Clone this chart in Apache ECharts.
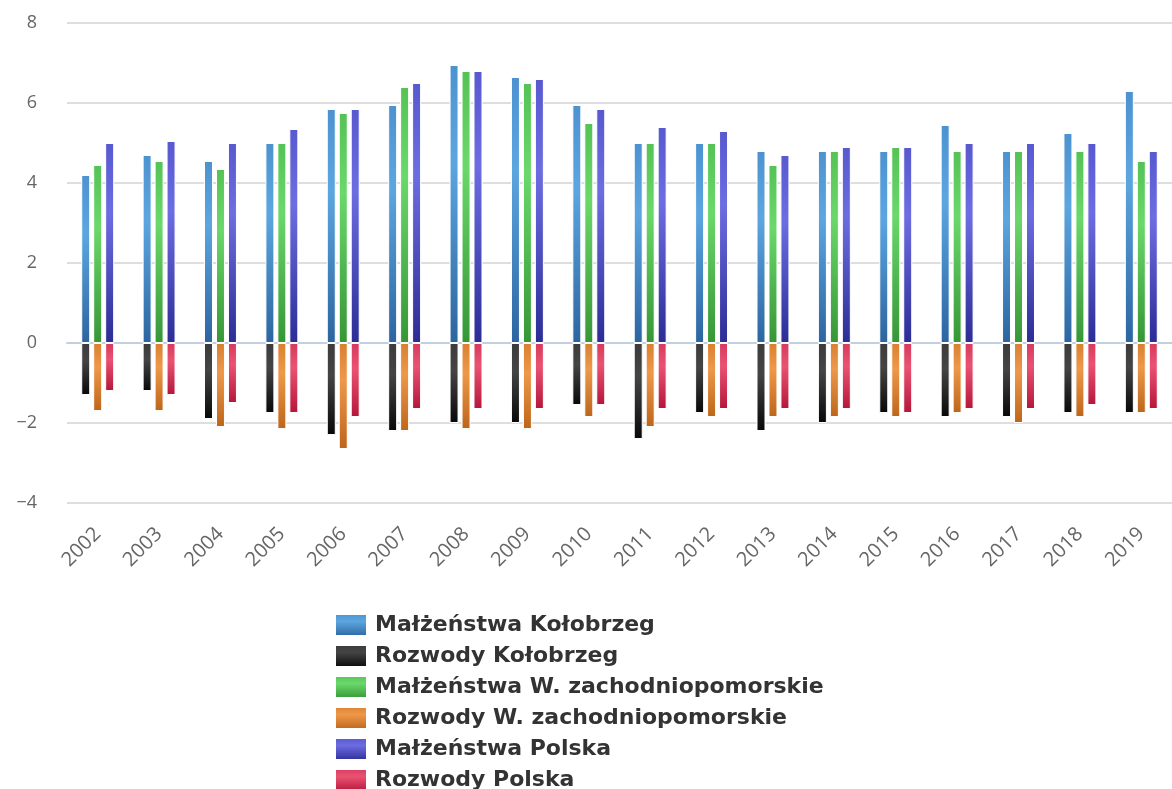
<!DOCTYPE html>
<html>
<head>
<meta charset="utf-8">
<script src="https://cdn.jsdelivr.net/npm/echarts@6/dist/echarts.min.js"></script>
<style>
  html, body { margin: 0; padding: 0; background: #fff; }
  #chart { width: 1172px; height: 789px; }
</style>
</head>
<body>
<div id="chart"></div>
<script>
// lata
const years = ['2002', '2003', '2004', '2005', '2006', '2007', '2008', '2009', '2010',
  '2011', '2012', '2013', '2014', '2015', '2016', '2017', '2018', '2019'];

// wartości
const malzKolobrzeg = [4.2, 4.7, 4.55, 5.0, 5.85, 5.95, 6.95, 6.65, 5.95, 5.0, 5.0, 4.8, 4.8, 4.8, 5.45, 4.8, 5.25, 6.3];
const rozwKolobrzeg = [-1.3, -1.2, -1.9, -1.75, -2.3, -2.2, -2.0, -2.0, -1.55, -2.4, -1.75, -2.2, -2.0, -1.75, -1.85, -1.85, -1.75, -1.75];
const malzZachPom = [4.45, 4.55, 4.35, 5.0, 5.75, 6.4, 6.8, 6.5, 5.5, 5.0, 5.0, 4.45, 4.8, 4.9, 4.8, 4.8, 4.8, 4.55];
const rozwZachPom = [-1.7, -1.7, -2.1, -2.15, -2.65, -2.2, -2.15, -2.15, -1.85, -2.1, -1.85, -1.85, -1.85, -1.85, -1.75, -2.0, -1.85, -1.75];
const malzPolska = [5.0, 5.05, 5.0, 5.35, 5.85, 6.5, 6.8, 6.6, 5.85, 5.4, 5.3, 4.7, 4.9, 4.9, 5.0, 5.0, 5.0, 4.8];
const rozwPolska = [-1.2, -1.3, -1.5, -1.75, -1.85, -1.65, -1.65, -1.65, -1.55, -1.65, -1.65, -1.65, -1.65, -1.75, -1.65, -1.65, -1.55, -1.65];

const yTicks = { min: -4, max: 8, interval: 2 };

function grad(c1, c2, c3) {
  return new echarts.graphic.LinearGradient(0, 0, 0, 1, [
    { offset: 0, color: c1 },
    { offset: 0.35, color: c2 },
    { offset: 1, color: c3 }
  ]);
}

function bar(name, data, stack, color) {
  return {
    name: name,
    type: 'bar',
    stack: stack,
    data: data,
    barWidth: 9,
    barGap: '33%',
    itemStyle: {
      color: color,
      borderColor: '#fff',
      borderWidth: 1
    }
  };
}

const chart = echarts.init(document.getElementById('chart'));

chart.setOption({
  backgroundColor: '#fff',
  animation: false,
  grid: {
    left: 67,
    right: -9,
    top: 23,
    bottom: 286
  },
  legend: {
    orient: 'vertical',
    left: 334,
    top: 613,
    height: 240,
    padding: 0,
    itemWidth: 32,
    itemHeight: 22,
    itemGap: 7,
    icon: 'rect',
    textStyle: {
      fontFamily: 'DejaVu Sans',
      fontWeight: 'bold',
      fontSize: 22,
      color: '#333',
      padding: [0, 0, 0, 3]
    }
  },
  xAxis: {
    type: 'category',
    data: years,
    axisLine: { lineStyle: { color: '#c0d0e0', width: 2 } },
    axisTick: { length: 16, lineStyle: { color: '#c0d0e0', width: 2 } },
    axisLabel: {
      rotate: 45,
      margin: 28,
      fontSize: 20,
      color: '#666',
      fontFamily: 'Open Sans'
    }
  },
  yAxis: {
    type: 'value',
    min: yTicks.min,
    max: yTicks.max,
    interval: yTicks.interval,
    axisLine: { show: false },
    axisTick: { show: false },
    axisLabel: {
      margin: 30,
      fontSize: 18,
      color: '#666',
      fontFamily: 'Open Sans',
      formatter: function (v) { return String(v).replace('-', '\u2212'); }
    },
    splitLine: { lineStyle: { color: '#dedede', width: 2 } }
  },
  series: [
    bar('Małżeństwa Kołobrzeg', malzKolobrzeg, 'kol', grad('#4d92d0', '#5ca6e0', '#2c65a0')),
    bar('Rozwody Kołobrzeg', rozwKolobrzeg, 'kol', grad('#3c3c3c', '#444444', '#080808')),
    bar('Małżeństwa W. zachodniopomorskie', malzZachPom, 'wz', grad('#55c255', '#6ad86a', '#369636')),
    bar('Rozwody W. zachodniopomorskie', rozwZachPom, 'wz', grad('#d98030', '#ee984a', '#bd661a')),
    bar('Małżeństwa Polska', malzPolska, 'pl', grad('#5858cf', '#6d6de2', '#2c2c96')),
    bar('Rozwody Polska', rozwPolska, 'pl', grad('#d63a5e', '#ea5272', '#b4163a'))
  ]
});
</script>
</body>
</html>
